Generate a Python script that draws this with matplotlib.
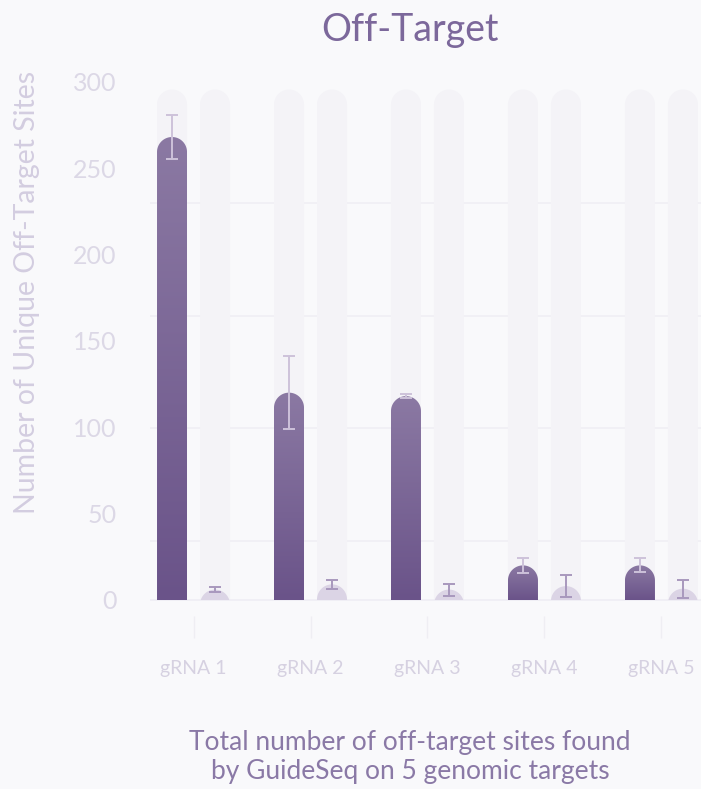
import numpy as np
import matplotlib.pyplot as plt
from matplotlib.patches import Polygon, Rectangle
from matplotlib.colors import LinearSegmentedColormap

# dados
grupos = ['gRNA 1', 'gRNA 2', 'gRNA 3', 'gRNA 4', 'gRNA 5']
off_target = [268, 120, 118, 20, 20]
off_target_err = [13, 21, 1, 4.5, 4]
controle = [6, 9, 6, 8, 6.5]
controle_err = [1.3, 2.6, 3.5, 6.4, 5.2]
grade_y = [34.2, 99.6, 164.4, 229.9]
y_ticks = [0, 50, 100, 150, 200, 250, 300]

titulo = 'Off-Target'
y_label = 'Number of Unique Off-Target Sites'
legenda = 'Total number of off-target sites found\nby GuideSeq on 5 genomic targets'

W, H = 701, 789
DPI = 100
fundo = '#f9f9fb'
fig = plt.figure(figsize=(W / DPI, H / DPI), dpi=DPI, facecolor=fundo)
plt.rcParams['font.family'] = ['Lato', 'DejaVu Sans']

# eixo posicionado em pixels
ax_l, ax_r, ax_t, ax_b = 150, 701, 80, 616
ax = fig.add_axes([ax_l / W, 1 - ax_b / H, (ax_r - ax_l) / W, (ax_b - ax_t) / H])
ax.set_facecolor(fundo)
ax.set_xlim(-0.372, 4.338)
ax.set_ylim(-9.3, 301)
for s in ax.spines.values():
    s.set_visible(False)

x = np.arange(len(grupos))
px_x = (ax_r - ax_l) / (4.338 + 0.372)   # pixels por unidade x
px_y = (ax_b - ax_t) / (301 + 9.3)       # pixels por unidade y
desloc = 21.5 / px_x
meia_larg = 15 / px_x
raio_y = 15 / px_y

clip = Rectangle((-1, 0), 10, 400, transform=ax.transData)


def barra_arredondada(xc, valor):
    t = np.linspace(np.pi, 0, 40)
    base = valor - raio_y
    xs = np.concatenate([[xc - meia_larg], xc + meia_larg * np.cos(t), [xc + meia_larg]])
    ys = np.concatenate([[min(0, base) - 5], base + raio_y * np.sin(t), [min(0, base) - 5]])
    return np.column_stack([xs, ys])


# grade horizontal
for g in grade_y:
    ax.axhline(g, color='#f0eff4', lw=1.2, zorder=0)

# colunas de fundo
for xi in x:
    for xc in (xi - desloc, xi + desloc):
        p = Polygon(barra_arredondada(xc, 295.5), closed=True, facecolor='#f4f3f7',
                    edgecolor='none', zorder=1)
        ax.add_patch(p)
        p.set_clip_path(clip)

ax.axhline(0, color='#efedf4', lw=1.2, zorder=1.5)

# barras escuras com gradiente
grad = np.linspace(0, 1, 256).reshape(-1, 1)
cmap = LinearSegmentedColormap.from_list('roxo', ['#6a5389', '#8b79a3'])
for xi, v in zip(x, off_target):
    xc = xi - desloc
    p = Polygon(barra_arredondada(xc, v), closed=True, facecolor='none',
                edgecolor='none', zorder=2)
    ax.add_patch(p)
    p.set_clip_path(clip)
    im = ax.imshow(grad, cmap=cmap, aspect='auto', origin='lower',
                   extent=(xc - meia_larg, xc + meia_larg, 0, v), zorder=2)
    im.set_clip_path(p)

# barras claras
for xi, v in zip(x, controle):
    p = Polygon(barra_arredondada(xi + desloc, v), closed=True, facecolor='#dbd4e5',
                edgecolor='none', zorder=2)
    ax.add_patch(p)
    p.set_clip_path(clip)

ax.set_xlim(-0.372, 4.338)
ax.set_ylim(-9.3, 301)

ax.errorbar(x - desloc, off_target, yerr=off_target_err, fmt='none',
            ecolor='#cdc2da', elinewidth=1.4, capsize=4.5, capthick=1.4, zorder=3)
ax.errorbar(x + desloc, controle, yerr=controle_err, fmt='none',
            ecolor='#a898bd', elinewidth=1.4, capsize=4.5, capthick=1.4, zorder=3)

# eixos e textos
ax.set_xticks(x)
ax.set_xticklabels(grupos)
ax.set_yticks(y_ticks)
ax.tick_params(axis='x', direction='out', length=15.5, width=1, color='#efeef3',
               pad=16, labelsize=14, labelcolor='#d6d1e1')
ax.tick_params(axis='y', length=0, pad=24, labelsize=18, labelcolor='#dcd8e6')
ax.set_ylabel(y_label, fontsize=20.5, color='#d3cde0')
ax.yaxis.set_label_coords(-0.199, 0.604)

fig.text(410 / W, 1 - 30 / H, titulo, ha='center', va='center',
         fontsize=27, color='#7c689b')
fig.text(410 / W, 1 - 757 / H, legenda, ha='center', va='center',
         fontsize=19, color='#8a79a6', linespacing=1.2)

fig.savefig('out.png', dpi=DPI, facecolor=fig.get_facecolor())
